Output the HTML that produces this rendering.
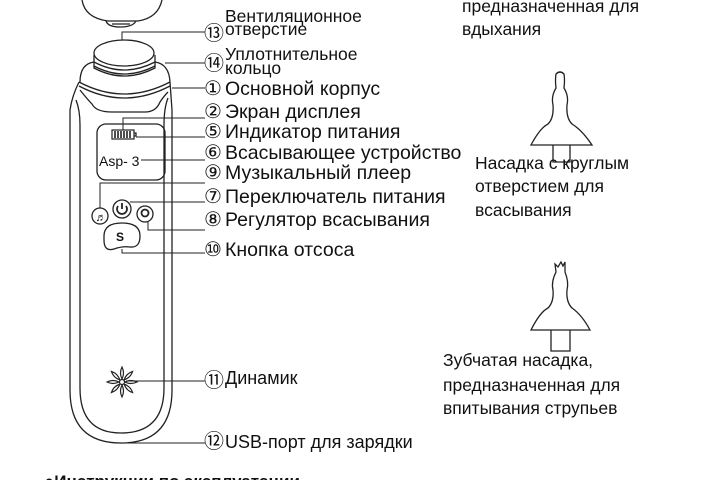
<!DOCTYPE html>
<html><head><meta charset="utf-8"><style>
html,body{margin:0;padding:0;background:#fff;width:720px;height:480px;overflow:hidden}
svg{display:block}
text{font-family:"Liberation Sans","DejaVu Sans",sans-serif;fill:#111}
.n{font-family:"DejaVu Sans",sans-serif;font-size:20px}
</style></head><body>
<svg width="720" height="480" viewBox="0 0 720 480" fill="none" stroke="#222" stroke-width="1.3">
<path d="M82 0 Q85 18 108 21 L138 21 Q158 18 162 0"/>
<path d="M106 21 Q108 27 120 27 Q133 27 136 21"/>
<path d="M112 24 L130 24"/>
<ellipse cx="124" cy="53" rx="30" ry="13"/>
<path d="M94 55 L94 68 Q124 84 155 68 L155 55"/>
<path d="M94 62 Q124 78 155 62"/>
<path d="M94 66 Q124 82 155 66"/>
<path d="M80 82 Q80 64 94 62 M155 62 Q169 64 170 82"/>
<path d="M79 82 Q124 106 170 82"/>
<path d="M79 86 Q124 110 170 86"/>
<path d="M80 90 Q88 100 92 104 Q96 112 112 112 L145 112 Q156 112 160 102 Q164 96 168 92"/>
<path d="M79 82 Q72 96 70 110 L70 390 Q70 443 121 443 Q172 443 172 390 L172 110 Q171 96 170 82"/>
<path d="M76 100 Q80 110 80 125 L80 388 Q80 433 121 433 Q164 433 164 388 L164 125 Q164 108 168 98"/>
<rect x="97" y="124" width="68" height="56" rx="9"/>
<rect x="112" y="130" width="22" height="9" stroke-width="1.2"/>
<path d="M115 131v7M118 131v7M121 131v7M124 131v7M127 131v7M130 131v7" stroke-width="1.6"/>
<path d="M134 133h2v3h-2"/>
<text x="99" y="166" font-size="14" stroke="none">Asp- 3</text>
<circle cx="100" cy="216" r="8"/>
<text x="95.5" y="221" font-size="11" stroke="none" font-weight="bold">♬</text>
<circle cx="122" cy="209" r="9"/>
<path d="M118 206 a5 5 0 1 0 8 0 M122 203v6" stroke-width="1.8"/>
<circle cx="145" cy="214" r="8"/>
<circle cx="145" cy="213" r="3.5" stroke-width="1.8"/>
<path d="M104 236 Q104 223 122 223 Q140 223 140 236 Q140 248 130 247 Q122 246 114 249 Q104 252 104 240 Z"/>
<text x="116" y="241" font-size="12" font-weight="bold" stroke="none">S</text>
<g transform="translate(122,382)" stroke-width="1.2">
<circle r="2.5"/>
<g id="p"><path d="M0 -3 Q3 -9 0 -15 Q-3 -9 0 -3"/></g>
<use href="#p" transform="rotate(45)"/><use href="#p" transform="rotate(90)"/><use href="#p" transform="rotate(135)"/><use href="#p" transform="rotate(180)"/><use href="#p" transform="rotate(225)"/><use href="#p" transform="rotate(270)"/><use href="#p" transform="rotate(315)"/>
</g>
<g stroke-width="1">
<path d="M122 40V32H205"/>
<path d="M165 63H205"/>
<path d="M172 88H205"/>
<path d="M123 130V118H205"/>
<path d="M136 137H205"/>
<path d="M141 160H205"/>
<path d="M100 208V183H205"/>
<path d="M130 202H205"/>
<path d="M148 221V230H205"/>
<path d="M122 249V253H205"/>
<path d="M126 381H205"/>
<path d="M122 443H205"/>
</g>
<path d="M531 145 Q540 128 548 124 Q554 118 553 105 Q551 96 556 88 Q555 80 556 74 Q560 70 564 74 Q565 80 564 88 Q569 96 567 105 Q566 118 572 124 Q582 130 592 145 Z"/>
<path d="M553 145V162H570V145"/>
<path d="M531 330 Q540 312 548 308 Q554 302 553 290 Q551 282 556 272 L555 264 L558 267 L561 262 L563 266 L565 262 L565 272 Q569 282 567 290 Q566 302 572 308 Q582 315 590 330 Z"/>
<path d="M551 330V351H570V330"/>
<g stroke="none" font-size="19.5">
<text x="225" y="22" font-size="17.5">Вентиляционное</text>
<text x="225" y="35" font-size="17.5">отверстие</text>
<text x="225" y="60" font-size="17.5">Уплотнительное</text>
<text x="225" y="74" font-size="17.5">кольцо</text>
<text x="225" y="95">Основной корпус</text>
<text x="225" y="118">Экран дисплея</text>
<text x="225" y="138">Индикатор питания</text>
<text x="225" y="159">Всасывающее устройство</text>
<text x="225" y="179">Музыкальный плеер</text>
<text x="225" y="203">Переключатель питания</text>
<text x="225" y="226">Регулятор всасывания</text>
<text x="225" y="256">Кнопка отсоса</text>
<text x="225" y="384" font-size="18">Динамик</text>
<text x="225" y="448" font-size="18">USB-порт для зарядки</text>
<text class="n" x="204" y="40">⑬</text>
<text class="n" x="204" y="70">⑭</text>
<text class="n" x="204" y="95">①</text>
<text class="n" x="204" y="118">②</text>
<text class="n" x="204" y="138">⑤</text>
<text class="n" x="204" y="159">⑥</text>
<text class="n" x="204" y="179">⑨</text>
<text class="n" x="204" y="203">⑦</text>
<text class="n" x="204" y="226">⑧</text>
<text class="n" x="204" y="256">⑩</text>
<text class="n" x="204" y="387">⑪</text>
<text class="n" x="204" y="448">⑫</text>
<text x="462" y="12" font-size="17.5">предназначенная для</text>
<text x="462" y="35" font-size="17.5">вдыхания</text>
<text x="475" y="169" font-size="17.5">Насадка с круглым</text>
<text x="475" y="192" font-size="17.5">отверстием для</text>
<text x="475" y="216" font-size="17.5">всасывания</text>
<text x="443" y="366" font-size="17.5">Зубчатая насадка,</text>
<text x="443" y="391" font-size="17.5">предназначенная для</text>
<text x="443" y="414" font-size="17.5">впитывания струпьев</text>
<text x="44" y="487" font-size="17" font-weight="bold">●Инструкции по эксплуатации</text>
</g>
</g>
</svg>
</body></html>
